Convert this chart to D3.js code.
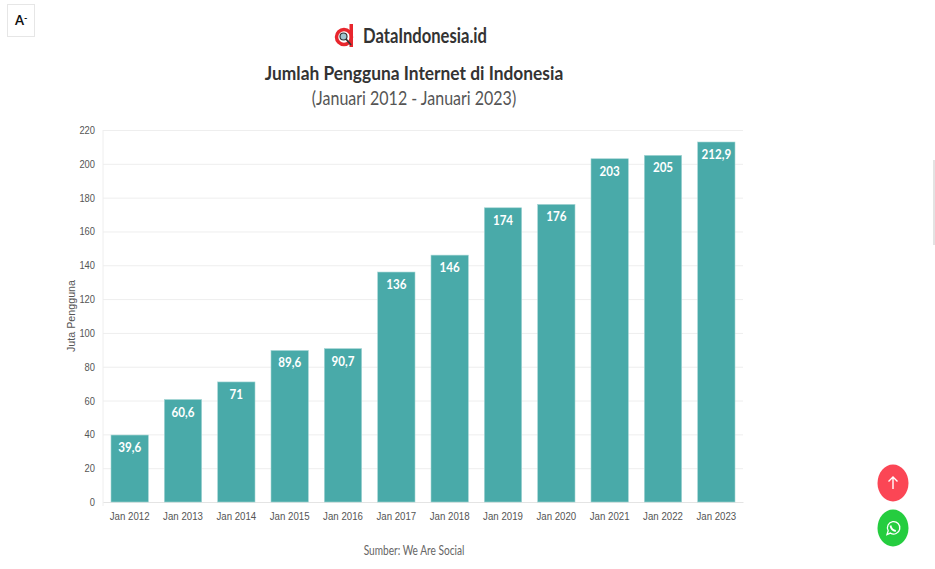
<!DOCTYPE html>
<html>
<head>
<meta charset="utf-8">
<script src="https://d3js.org/d3.v7.min.js"></script>
<style>
  html, body { margin: 0; background: #fff; }
  svg { display: block; font-family: Lato, "Noto Sans", sans-serif; }
</style>
</head>
<body>
<div id="chart"></div>
<script>
const categories = ["Jan 2012", "Jan 2013", "Jan 2014", "Jan 2015", "Jan 2016", "Jan 2017",
  "Jan 2018", "Jan 2019", "Jan 2020", "Jan 2021", "Jan 2022", "Jan 2023"]
const users = [39.6, 60.6, 71, 89.6, 90.7, 136, 146, 174, 176, 203, 205, 212.9]
const yTicks = [0, 20, 40, 60, 80, 100, 120, 140, 160, 180, 200, 220]

const width = 935, height = 569
const plot = { left: 103, right: 743, top: 130, bottom: 502 }

// The original face is narrower than any installed one, so squeeze the glyphs
function narrow( selection, k ) {
    selection.each(function() {
        d3.select(this)
            .attr('textLength', this.getComputedTextLength() * k)
            .attr('lengthAdjust', 'spacingAndGlyphs')
    })
}

const svg = d3.select('#chart').append('svg')
    .attr('width', width).attr('height', height)

const x = d3.scaleBand().domain(categories).range([plot.left, plot.right]).paddingInner(0.3).paddingOuter(0.15)
const y = d3.scaleLinear().domain([0, 220]).range([plot.bottom, plot.top])

// Grid and axes
const yAxis = svg.append('g')
    .attr('transform', `translate(${plot.left},0)`)
    .call(d3.axisLeft(y).tickValues(yTicks).tickSize(-(plot.right - plot.left)).tickPadding(8))
yAxis.select('.domain').remove()
yAxis.selectAll('line').attr('stroke', '#eeeeee')
yAxis.selectAll('text').attr('fill', '#555').style('font-size', '11px').call(narrow, 0.85)

const xAxis = svg.append('g')
    .attr('transform', `translate(0,${plot.bottom})`)
    .call(d3.axisBottom(x).tickSize(0).tickPadding(10))
xAxis.select('.domain').attr('stroke', '#e4e4e4')
xAxis.selectAll('text').attr('fill', '#555').style('font-size', '11.5px').call(narrow, 0.84)

svg.append('line')
    .attr('x1', plot.left).attr('x2', plot.left)
    .attr('y1', plot.top).attr('y2', plot.bottom + 4)
    .attr('stroke', '#eeeeee')

// Bars
svg.selectAll('.bar').data(users).join('rect')
    .attr('class', 'bar')
    .attr('x', (d, i) => x(categories[i]))
    .attr('y', d => y(d))
    .attr('width', x.bandwidth())
    .attr('height', d => plot.bottom - y(d))
    .attr('fill', '#49aaa9')
    .attr('stroke', '#a4d5d4')
    .attr('stroke-width', 0.6)

// Value labels
svg.selectAll('.value').data(users).join('text')
    .attr('class', 'value')
    .attr('x', (d, i) => x(categories[i]) + x.bandwidth() / 2)
    .attr('y', d => y(d) + 17)
    .attr('text-anchor', 'middle')
    .attr('fill', '#fff')
    .style('font-size', '13.5px')
    .style('font-weight', 700)
    .text(d => String(d).replace('.', ','))
    .call(narrow, 0.86)

svg.append('text')
    .attr('transform', 'translate(75,316) rotate(-90)')
    .attr('text-anchor', 'middle')
    .attr('fill', '#555')
    .attr('textLength', 72)
    .attr('lengthAdjust', 'spacingAndGlyphs')
    .style('font-family', '"Liberation Sans", sans-serif')
    .style('font-size', '10.5px')
    .text('Juta Pengguna')

// Titles
svg.append('text')
    .attr('x', 414).attr('y', 79.5)
    .attr('text-anchor', 'middle').attr('fill', '#333')
    .style('font-size', '19.5px').style('font-weight', 700)
    .text('Jumlah Pengguna Internet di Indonesia')
    .call(narrow, 0.89)
svg.append('text')
    .attr('x', 414).attr('y', 105)
    .attr('text-anchor', 'middle').attr('fill', '#555')
    .style('font-size', '20px').style('font-weight', 400)
    .text('(Januari 2012 - Januari 2023)')
    .call(narrow, 0.8)
svg.append('text')
    .attr('x', 414).attr('y', 555)
    .attr('text-anchor', 'middle').attr('fill', '#666')
    .style('font-size', '12.5px')
    .text('Sumber: We Are Social')
    .call(narrow, 0.81)

// Logo
const logo = svg.append('g').attr('transform', 'translate(344,37)')
logo.append('circle').attr('r', 7.5).attr('fill', 'none').attr('stroke', '#e8262d').attr('stroke-width', 3.5)
logo.append('rect').attr('x', 5.5).attr('y', -13).attr('width', 3.5).attr('height', 23).attr('fill', '#e8262d')
logo.append('circle').attr('cx', -0.5).attr('cy', -0.5).attr('r', 3.5).attr('fill', '#9fc4cf').attr('stroke', '#333').attr('stroke-width', 1.2)
logo.append('line').attr('x1', 2).attr('y1', 2).attr('x2', 7).attr('y2', 8).attr('stroke', '#333').attr('stroke-width', 1.8)
svg.append('text')
    .attr('x', 363).attr('y', 43)
    .attr('fill', '#333')
    .style('font-size', '20px').style('font-weight', 700)
    .text('DataIndonesia.id')
    .call(narrow, 0.83)

// Font size button
svg.append('rect').attr('x', 7.5).attr('y', 4.5).attr('width', 27).attr('height', 32)
    .attr('fill', '#fff').attr('stroke', '#e6e6e6')
svg.append('text').attr('x', 15).attr('y', 25).attr('fill', '#111')
    .style('font-size', '13px').style('font-weight', 700).text('A')
svg.append('text').attr('x', 24).attr('y', 21).attr('fill', '#111')
    .style('font-size', '9px').style('font-weight', 700).text('-')

// Floating buttons
const up = svg.append('g').attr('transform', 'translate(893,483)')
up.append('ellipse').attr('rx', 15.5).attr('ry', 18.5).attr('fill', '#fb4655')
up.append('path').attr('d', 'M0,6V-6M-4.5,-1.5L0,-6L4.5,-1.5').attr('fill', 'none').attr('stroke', '#fff').attr('stroke-width', 1.4)

const wa = svg.append('g').attr('transform', 'translate(893,528)')
wa.append('ellipse').attr('rx', 15.5).attr('ry', 18.5).attr('fill', '#25cd3f')
wa.append('path').attr('d', 'M-6,6.5L-4.8,2.8A6.2,6.2 0 1 1 -2.6,5.1Z').attr('fill', 'none').attr('stroke', '#fff').attr('stroke-width', 1.3)
wa.append('path').attr('d', 'M-2.5,-2.5C-2,1 0,2.5 2.8,3').attr('fill', 'none').attr('stroke', '#fff').attr('stroke-width', 1.8)

// Scrollbar sliver on the right edge
svg.append('rect').attr('x', 933).attr('y', 160).attr('width', 2).attr('height', 85).attr('fill', '#e3e3e3')
</script>
</body>
</html>
